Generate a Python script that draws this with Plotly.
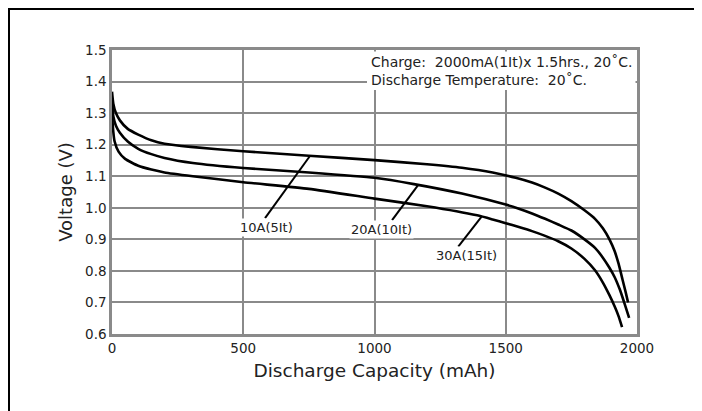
import plotly.graph_objects as go

# --- data ------------------------------------------------------------------
cap_10a = [0, 5, 15, 30, 60, 100, 150, 200, 300, 500, 750, 1000, 1200, 1333,
           1450, 1538, 1600, 1650, 1700, 1750, 1800, 1840, 1870, 1895, 1915,
           1930, 1945, 1957, 1966]
volt_10a = [1.368, 1.33, 1.30, 1.277, 1.25, 1.232, 1.214, 1.203, 1.193, 1.179,
            1.165, 1.151, 1.138, 1.127, 1.112, 1.095, 1.080, 1.064, 1.045, 1.021,
            0.992, 0.965, 0.935, 0.90, 0.862, 0.822, 0.772, 0.732, 0.700]

cap_20a = [0, 5, 15, 30, 60, 100, 150, 200, 308, 500, 750, 1000, 1150, 1333,
           1500, 1550, 1600, 1650, 1700, 1750, 1800, 1840, 1870, 1895, 1915,
           1935, 1952, 1970]
volt_20a = [1.345, 1.29, 1.26, 1.238, 1.21, 1.187, 1.17, 1.158, 1.142, 1.126,
            1.112, 1.095, 1.075, 1.045, 1.01, 0.997, 0.982, 0.965, 0.947, 0.928,
            0.90, 0.873, 0.842, 0.81, 0.78, 0.74, 0.698, 0.651]

cap_30a = [0, 3, 10, 25, 50, 100, 150, 200, 308, 500, 750, 1000, 1200, 1391,
           1450, 1500, 1550, 1600, 1650, 1700, 1750, 1800, 1840, 1870, 1895,
           1915, 1930, 1943]
volt_30a = [1.325, 1.26, 1.21, 1.178, 1.155, 1.133, 1.121, 1.112, 1.10, 1.081,
            1.06, 1.029, 1.005, 0.976, 0.963, 0.951, 0.939, 0.926, 0.911, 0.894,
            0.871, 0.838, 0.802, 0.763, 0.723, 0.687, 0.656, 0.622]

series = [(cap_10a, volt_10a), (cap_20a, volt_20a), (cap_30a, volt_30a)]

# curve labels: text, point on curve, end of leader, label centre
label_text = ["10A(5It)", "20A(10It)", "30A(15It)"]
leader_from = [(754, 1.164), (1166, 1.072), (1408, 0.972)]
leader_to = [(583, 0.967), (1067, 0.961), (1319, 0.877)]
label_pos = [(589, 0.939), (1027, 0.930), (1350, 0.850)]

x_ticks = [0, 500, 1000, 1500, 2000]
y_ticks = [0.6, 0.7, 0.8, 0.9, 1.0, 1.1, 1.2, 1.3, 1.4, 1.5]

note_lines = ["Charge:  2000mA(1It)x 1.5hrs., 20˚C.",
              "Discharge Temperature:  20˚C."]

#-------------------------------------------------------------------------------
# the page adds an 8px body margin, so work in screen pixels and shift back
OFF = 8
W, H = 702, 411
L, T = 112 - OFF, 50 - OFF
R, B = W - (637 - OFF), H - (334 - OFF)
pw, ph = W - L - R, H - T - B

def px_x(p):  # screen pixel -> paper x
    return (p - OFF - L) / pw

def px_y(p):  # screen pixel -> paper y
    return (H - B - (p - OFF)) / ph

font = "DejaVu Sans, Liberation Sans, sans-serif"
grid = "#8a8a8a"
ink = "#222222"

fig = go.Figure()
for cap, volt in series:
    fig.add_trace(go.Scatter(x=cap, y=volt, mode="lines",
                             line=dict(color="black", width=2.6, shape="spline", smoothing=0.5),
                             showlegend=False, hoverinfo="skip"))

shapes = []
for (x0, y0), (x1, y1) in zip(leader_from, leader_to):
    shapes.append(dict(type="line", xref="x", yref="y", x0=x0, y0=y0, x1=x1, y1=y1,
                       line=dict(color="black", width=2)))

# white panel behind the test conditions
shapes.append(dict(type="rect", xref="paper", yref="paper", layer="above",
                   x0=px_x(367), x1=1 - 1.5 / pw, y0=px_y(90), y1=1 - 1.5 / ph,
                   fillcolor="white", line=dict(width=0)))
# outer frame
shapes.append(dict(type="rect", xref="paper", yref="paper",
                   x0=px_x(9), x1=px_x(695), y0=px_y(430), y1=px_y(9),
                   line=dict(color="black", width=2)))

annotations = []
for txt, (lx, ly) in zip(label_text, label_pos):
    annotations.append(dict(x=lx, y=ly, xref="x", yref="y", text=txt, showarrow=False,
                            font=dict(family=font, size=13, color=ink),
                            bgcolor="white", borderpad=1))
for i, line in enumerate(note_lines):
    annotations.append(dict(x=px_x(369), y=px_y(62 + i * 18), xref="paper", yref="paper",
                            text=line, showarrow=False, xanchor="left", yanchor="middle",
                            font=dict(family=font, size=14, color=ink)))

fig.update_layout(
    width=W, height=H,
    margin=dict(l=L, r=R, t=T, b=B),
    paper_bgcolor="white", plot_bgcolor="white",
    font=dict(family=font, color=ink),
    shapes=shapes, annotations=annotations,
)
fig.update_xaxes(range=[0, 2000], tickvals=x_ticks, showgrid=True, gridcolor=grid, gridwidth=2,
                 showline=True, linecolor=grid, linewidth=2.5, mirror=True, zeroline=False,
                 ticks="", tickfont=dict(size=13.5, color=ink),
                 title=dict(text="Discharge Capacity (mAh)", font=dict(size=18.5, color=ink), standoff=10))
fig.update_yaxes(range=[0.6, 1.5], tickvals=y_ticks, tickformat=".1f", showgrid=True,
                 gridcolor=grid, gridwidth=2, showline=True, linecolor=grid, linewidth=2.5,
                 mirror=True, zeroline=False, ticks="", tickfont=dict(size=13.5, color=ink),
                 title=dict(text="Voltage (V)", font=dict(size=18, color=ink), standoff=8))

fig.write_html("out.html")
